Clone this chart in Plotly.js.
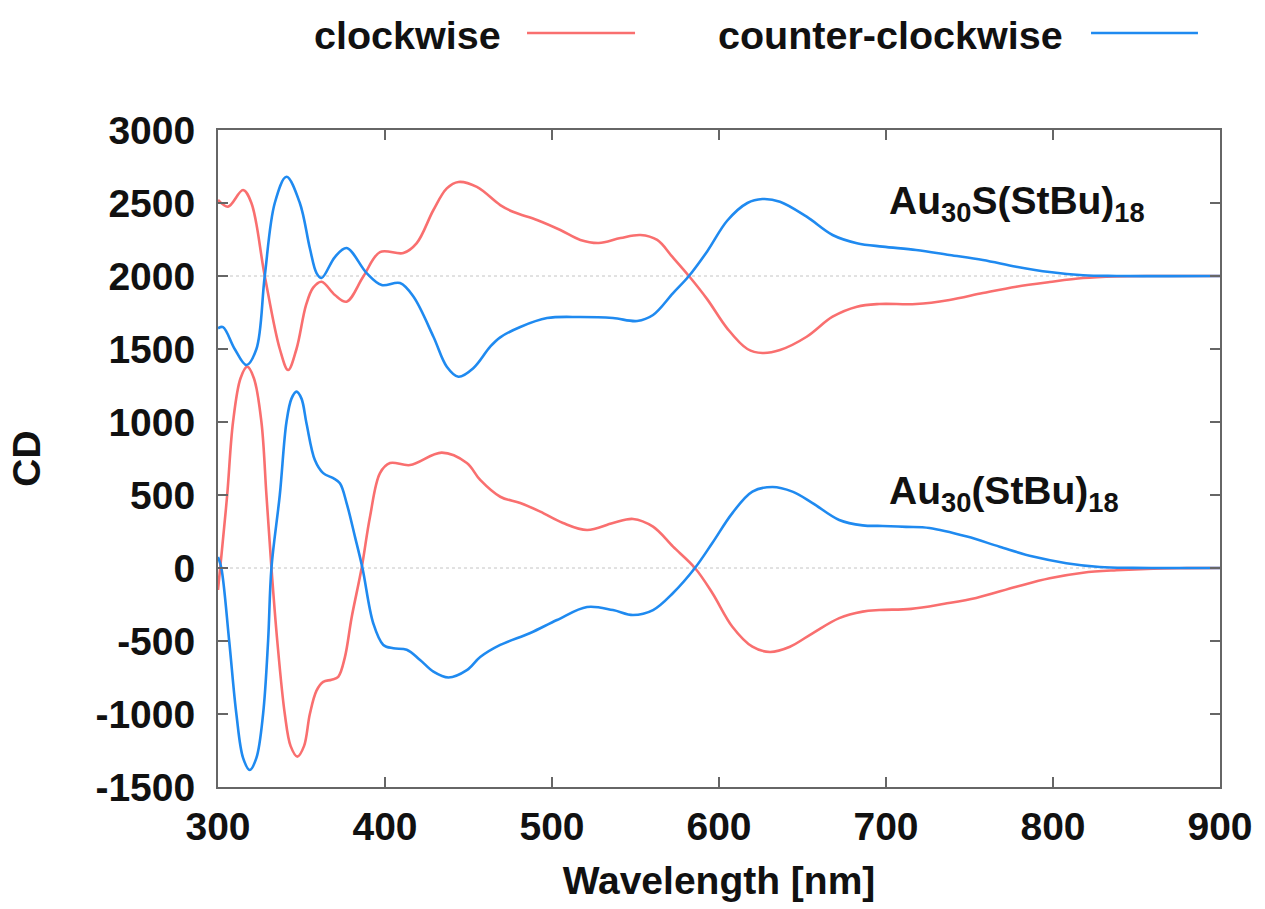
<!DOCTYPE html>
<html>
<head>
<meta charset="utf-8">
<script src="https://cdn.plot.ly/plotly-3.0.1.min.js"></script>
<style>
html,body{margin:0;padding:0;background:#fff;}
#chart{width:1265px;height:909px;}
</style>
</head>
<body>
<div id="chart"></div>
<script>
// ---- data (CD values) ----
const seriesNames = ["clockwise", "counter-clockwise"];
const panelLabels = ["Au<sub>30</sub>S(StBu)<sub>18</sub>", "Au<sub>30</sub>(StBu)<sub>18</sub>"];
const upperOffset = 2000;

// Au30(StBu)18 (lower pair)
const cwLowerX = [300,302,305.5,309,313.5,317.5,321.5,326,329,332,335.5,340,343.5,347.5,351.5,355,359,363,368,372,376,380,386,391,397,403,415,434,449,457,469,481,493,506.6,521,536.5,548.5,560.5,572.5,585.6,596,608,620,630.5,642.5,656,672,686,696,715,735,754,778,798,818,838,860,880,900];
const cwLowerY = [-150,80,500,1000,1300,1379,1300,1000,500,0,-500,-1000,-1220,-1292,-1220,-1000,-840,-780,-765,-745,-610,-340,0,350,650,719,705,790,719,603,488,445,386,308,260,308,336,283,146,0,-171,-402,-539,-575,-539,-447,-343,-299,-288,-280,-245,-205,-128,-70,-32,-15,-4,-1,0];

const ccwLowerX = [300,302,306.7,311,315,319,323,327,330,332,337,341,344,347,350,353,358,363,369,373,377,382,386.5,393,399,405,413,421,429,438,449,457,469,487,503,521,536.5,548.5,560.5,572.5,585.6,596,608,620,632,644,656,672,686,698,712,726,748.5,768,788,808,828,848,870,900];
const ccwLowerY = [75,0,-500,-1000,-1300,-1384,-1300,-1000,-500,0,500,1000,1160,1208,1160,990,740,650,615,580,445,215,0,-380,-527,-550,-560,-630,-710,-750,-700,-610,-527,-445,-356,-267,-288,-322,-288,-171,0,171,376,523,555,523,445,329,292,288,282,274,215,146,78,33,7,1,0,0];

// Au30S(StBu)18 (upper pair, drawn with +2000 offset)
const cwUpperX = [300,306,315,320,328,337,342,347,352.7,357,362,370,377,387,397,411,419,429,437,444,455,469,477,491,505,517,528,541,553,563,572,582,593,605,617,626,636.5,652.5,668,682.6,696,718,738,758,778,798,818,838,860,900];
const cwUpperY = [521,475,589,500,0,-500,-644,-500,-200,-80,-39,-130,-176,-4,164,157,225,452,600,644,610,486,438,384,315,247,226,260,281,247,132,0,-160,-360,-500,-527,-507,-416,-279,-210,-192,-192,-164,-117,-73,-41,-14,-3,0,0];

const ccwUpperX = [300,303,310,317,323,328,334,341,349,355,359,362,370,377,389,398,409,417,429,437,444,453,463,469,481,497,517,536.5,551,560.5,572.5,582,593,605,617,626,636.5,652.5,668,682.6,698,718,738,758,778,798,818,838,900];
const ccwUpperY = [-358,-350,-500,-610,-500,0,500,680,500,190,20,-14,130,192,20,-62,-48,-141,-416,-621,-690,-630,-484,-420,-349,-288,-281,-288,-308,-267,-117,0,170,380,500,527,509,406,281,225,201,178,144,110,64,27,5,0,0];

const xTicks = [300,400,500,600,700,800,900];
const yTicks = [-1500,-1000,-500,0,500,1000,1500,2000,2500,3000];

const red = "#f96f6f";
const blue = "#1f8af0";

function line(x, y, color, name, offset) {
  return {
    x: x, y: y.map(v => v + offset), type: "scatter", mode: "lines", name: name,
    line: {color: color, width: 2.6, shape: "spline", smoothing: 1.0},
    showlegend: false, hoverinfo: "x+y"
  };
}

const traces = [
  line(cwLowerX, cwLowerY, red, seriesNames[0], 0),
  line(ccwLowerX, ccwLowerY, blue, seriesNames[1], 0),
  line(cwUpperX, cwUpperY, red, seriesNames[0], upperOffset),
  line(ccwUpperX, ccwUpperY, blue, seriesNames[1], upperOffset)
];

const fontFam = "Liberation Sans, Arial, Helvetica, sans-serif";
const axisCommon = {
  showline: true, mirror: "ticks", linecolor: "#666", linewidth: 2,
  ticks: "inside", ticklen: 10, tickwidth: 2, tickcolor: "#666",
  showgrid: false, zeroline: false, automargin: false,
  tickfont: {family: fontFam, size: 39, color: "#111", weight: 700}
};

const layout = {
  width: 1265, height: 909,
  paper_bgcolor: "#fff", plot_bgcolor: "#fff",
  margin: {l: 218, r: 45, t: 130, b: 122},
  font: {family: fontFam, color: "#111"},
  xaxis: Object.assign({}, axisCommon, {
    range: [300, 900], tickvals: xTicks, ticktext: xTicks.map(String),
    ticklabelstandoff: 4,
    title: {text: "Wavelength [nm]", standoff: 20, font: {family: fontFam, size: 39, color: "#111", weight: 700}}
  }),
  yaxis: Object.assign({}, axisCommon, {
    range: [-1500, 3000], tickvals: yTicks, ticktext: yTicks.map(String),
    ticklabelstandoff: 13,
    title: {text: "CD", standoff: 43, font: {family: fontFam, size: 39, color: "#111", weight: 700}}
  }),
  shapes: [
    {type: "line", xref: "paper", yref: "y", x0: 0, x1: 1, y0: 0, y1: 0, line: {color: "#c4c4c4", width: 1, dash: "dot"}, layer: "below"},
    {type: "line", xref: "paper", yref: "y", x0: 0, x1: 1, y0: upperOffset, y1: upperOffset, line: {color: "#c4c4c4", width: 1, dash: "dot"}, layer: "below"},
    {type: "line", xref: "paper", yref: "paper", x0: 0.3084, x1: 0.4162, y0: 1.1476, y1: 1.1476, line: {color: red, width: 2.6}},
    {type: "line", xref: "paper", yref: "paper", x0: 0.8713, x1: 0.978, y0: 1.1476, y1: 1.1476, line: {color: blue, width: 2.6}}
  ],
  annotations: [
    {xref: "paper", yref: "paper", x: 0.2844, y: 1.1446, xanchor: "right", yanchor: "middle", showarrow: false,
     text: seriesNames[0], font: {family: fontFam, size: 39.5, color: "#111", weight: 700}},
    {xref: "paper", yref: "paper", x: 0.8453, y: 1.1446, xanchor: "right", yanchor: "middle", showarrow: false,
     text: seriesNames[1], font: {family: fontFam, size: 39.5, color: "#111", weight: 700}},
    {xref: "paper", yref: "y", x: 0.6677, y: 2500, xanchor: "left", yanchor: "middle", showarrow: false,
     text: panelLabels[0], font: {family: fontFam, size: 39, color: "#111", weight: 700}},
    {xref: "paper", yref: "y", x: 0.6677, y: 510, xanchor: "left", yanchor: "middle", showarrow: false,
     text: panelLabels[1], font: {family: fontFam, size: 39, color: "#111", weight: 700}}
  ]
};

Plotly.newPlot("chart", traces, layout, {displayModeBar: false, staticPlot: true});
</script>
</body>
</html>
